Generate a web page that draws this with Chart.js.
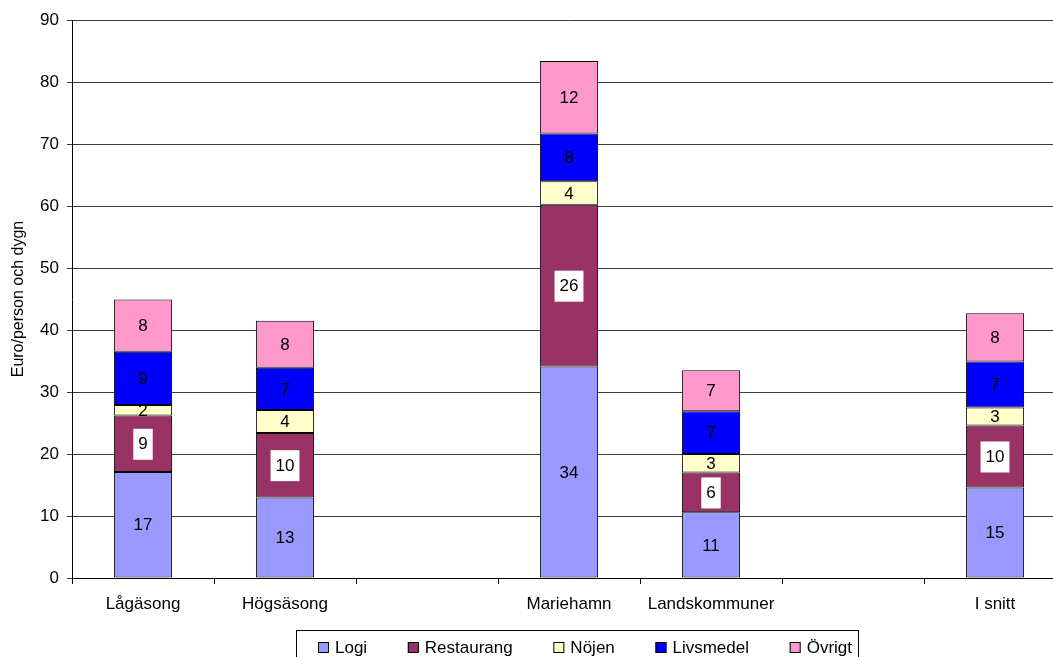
<!DOCTYPE html>
<html>
<head>
<meta charset="utf-8">
<script src="https://cdn.jsdelivr.net/npm/chart.js@4/dist/chart.umd.min.js"></script>
<style>
  html, body { margin: 0; padding: 0; overflow: hidden; background: #fff; }
  #wrap { position: absolute; left: 0; top: 0; }
</style>
</head>
<body>
<div id="wrap"><canvas id="mygraph" width="1070" height="670"></canvas></div>
<script>
// categories (empty slots keep the gaps between the groups)
const categories = ['Lågäsong', 'Högsäsong', '', 'Mariehamn', 'Landskommuner', '', 'I snitt']

// series values, Euro/person och dygn
const logi       = [17.1, 13.0, null, 34.1, 10.6, null, 14.6]
const restaurang = [9.1, 10.4, null, 26.1, 6.4, null, 10.0]
const nojen      = [1.7, 3.7, null, 3.8, 3.0, null, 2.9]
const livsmedel  = [8.6, 6.8, null, 7.7, 6.9, null, 7.4]
const ovrigt     = [8.4, 7.6, null, 11.7, 6.6, null, 7.8]

const yTicks = [0, 10, 20, 30, 40, 50, 60, 70, 80, 90]

const FONT = 'Arial, "Liberation Sans", sans-serif'

let makeSet = (label, data, color) => ({
  label: label,
  data: data,
  backgroundColor: color,
  borderColor: '#000000',
  borderWidth: 1,
  borderSkipped: false,
  categoryPercentage: 1,
  barPercentage: 0.41
})

// numbers inside the bars, Restaurang gets a white box
const segLabels = {
  id: 'segLabels',
  afterDatasetsDraw(chart) {
    const ctx = chart.ctx
    ctx.save()
    ctx.font = '17px ' + FONT
    ctx.textAlign = 'center'
    ctx.textBaseline = 'middle'
    chart.data.datasets.forEach((ds, i) => {
      chart.getDatasetMeta(i).data.forEach((el, j) => {
        const v = ds.data[j]
        if (v == null) return
        const txt = String(Math.round(v))
        const cy = (el.y + el.base) / 2
        if (i === 1) {
          const w = ctx.measureText(txt).width + 10
          ctx.fillStyle = '#ffffff'
          ctx.fillRect(el.x - w / 2, cy - 15, w, 31)
        }
        ctx.fillStyle = '#000000'
        ctx.fillText(txt, el.x, cy + 1)
      })
    })
    ctx.restore()
  }
}

// legend with frame, like the original
const boxLegend = {
  id: 'boxLegend',
  afterDraw(chart) {
    const ctx = chart.ctx
    const sets = chart.data.datasets
    ctx.save()
    ctx.font = '17px ' + FONT
    ctx.textBaseline = 'middle'
    const frameL = 296, frameR = 858, frameT = 630
    ctx.strokeStyle = '#000000'
    ctx.lineWidth = 1
    ctx.strokeRect(frameL + 0.5, frameT + 0.5, frameR - frameL, 40)
    const widths = sets.map(s => ctx.measureText(s.label).width + 17)
    const span = 534
    const gap = (span - widths.reduce((a, b) => a + b, 0)) / (sets.length - 1)
    let x = 318
    const cy = 647
    sets.forEach((s, i) => {
      ctx.fillStyle = s.backgroundColor
      ctx.fillRect(x, cy - 5, 11, 11)
      ctx.strokeRect(x + 0.5, cy - 5 + 0.5, 10, 10)
      ctx.fillStyle = '#000000'
      ctx.fillText(s.label, x + 17, cy + 1)
      x += widths[i] + gap
    })
    ctx.restore()
  }
}

const ctx = document.getElementById('mygraph').getContext('2d')
new Chart(ctx, {
  type: 'bar',
  data: {
    labels: categories,
    datasets: [
      makeSet('Logi', logi, '#9999FF'),
      makeSet('Restaurang', restaurang, '#993366'),
      makeSet('Nöjen', nojen, '#FFFFCC'),
      makeSet('Livsmedel', livsmedel, '#0000FF'),
      makeSet('Övrigt', ovrigt, '#FF99CC')
    ]
  },
  options: {
    responsive: false,
    animation: false,
    devicePixelRatio: 1,
    layout: { padding: { left: 0, right: 4, top: 20, bottom: 52 } },
    plugins: {
      legend: { display: false },
      tooltip: { enabled: false }
    },
    scales: {
      x: {
        stacked: true,
        offset: true,
        grid: {
          display: true,
          offset: true,
          drawOnChartArea: false,
          drawTicks: true,
          tickLength: 6,
          color: '#000000'
        },
        border: { display: true, color: '#000000', width: 1 },
        ticks: {
          color: '#000000',
          font: { family: FONT, size: 17 },
          padding: 10,
          maxRotation: 0,
          autoSkip: false
        },
        afterFit: (scale) => { scale.height = 40 }
      },
      y: {
        stacked: true,
        min: 0,
        max: 90,
        afterBuildTicks: (scale) => { scale.ticks = yTicks.map(v => ({ value: v })) },
        grid: {
          color: '#3a3a3a',
          lineWidth: 1,
          tickLength: 5,
          drawTicks: true
        },
        border: { display: true, color: '#000000', width: 1 },
        ticks: {
          color: '#000000',
          font: { family: FONT, size: 17 },
          padding: 8
        },
        title: {
          display: true,
          text: 'Euro/person och dygn',
          color: '#000000',
          font: { family: FONT, size: 16 },
          padding: { top: 9, bottom: 0 }
        },
        afterFit: (scale) => { scale.width = 72 }
      }
    }
  },
  plugins: [segLabels, boxLegend]
})
</script>
</body>
</html>
